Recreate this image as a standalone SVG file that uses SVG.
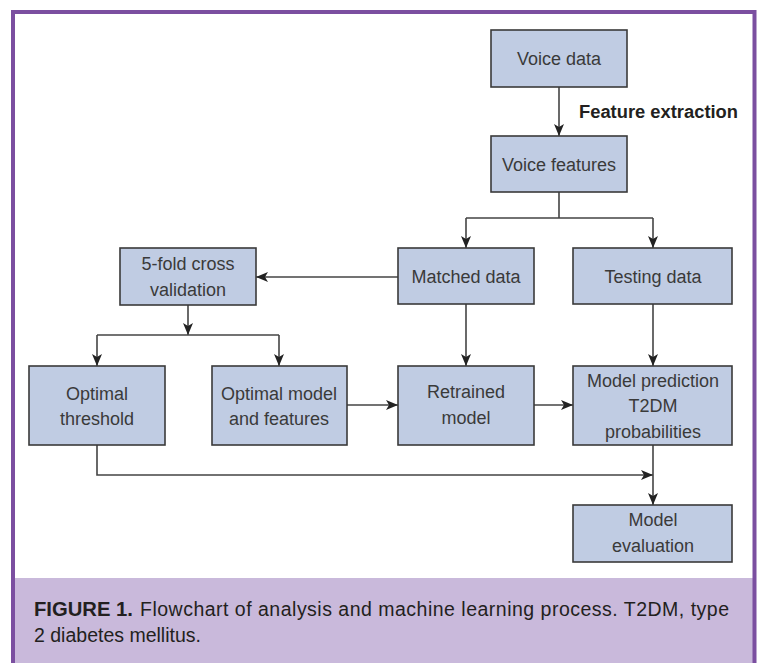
<svg xmlns="http://www.w3.org/2000/svg" width="760" height="663" viewBox="0 0 760 663">
<style>
.box{fill:#c0cce3;stroke:#3a3a3a;stroke-width:1.6}
.t{font-family:"Liberation Sans",Arial,sans-serif;font-size:18px;fill:#3a3a3a;text-anchor:middle}
.c{fill:none;stroke:#444;stroke-width:1.6}
.cap{font-family:"Liberation Sans",Arial,sans-serif;font-size:19.5px;fill:#231f20}
</style>
<defs>
<marker id="ah" markerUnits="userSpaceOnUse" markerWidth="12" markerHeight="10" refX="12" refY="5" orient="auto">
<path d="M0,0 L12,5 L0,10 L3,5 z" fill="#222"/>
</marker>
</defs>
<rect x="0" y="0" width="760" height="663" fill="#fff"/>
<rect id="caption-band" x="13" y="578" width="741" height="85" fill="#c9b9db"/>
<path d="M13,663 V12 H754.5 V663" fill="none" stroke="#7b4fa0" stroke-width="4"/>

<g id="connectors">
<path class="c" d="M559,87 V136" marker-end="url(#ah)"/>
<path class="c" d="M559,192 V218 M466,218 H653"/>
<path class="c" d="M466,218 V248" marker-end="url(#ah)"/>
<path class="c" d="M653,218 V248" marker-end="url(#ah)"/>
<path class="c" d="M398,277 H256" marker-end="url(#ah)"/>
<path class="c" d="M188,305 V335" marker-end="url(#ah)"/>
<path class="c" d="M97,335 H279"/>
<path class="c" d="M97,335 V366" marker-end="url(#ah)"/>
<path class="c" d="M279,335 V366" marker-end="url(#ah)"/>
<path class="c" d="M466,304 V366" marker-end="url(#ah)"/>
<path class="c" d="M653,304 V366" marker-end="url(#ah)"/>
<path class="c" d="M347,405 H398" marker-end="url(#ah)"/>
<path class="c" d="M534,405 H573" marker-end="url(#ah)"/>
<path class="c" d="M97,445 V475 H653" marker-end="url(#ah)"/>
<path class="c" d="M653,445 V505" marker-end="url(#ah)"/>
<text x="579" y="118" font-family="'Liberation Sans',Arial,sans-serif" font-size="18" font-weight="bold" fill="#231f20" textLength="159" lengthAdjust="spacingAndGlyphs">Feature extraction</text>
</g>

<g id="voice-data">
<rect class="box" x="491" y="30" width="136" height="57"/>
<text class="t" x="559" y="65">Voice data</text>
</g>
<g id="voice-features">
<rect class="box" x="491" y="136" width="136" height="56"/>
<text class="t" x="559" y="171">Voice features</text>
</g>
<g id="matched-data">
<rect class="box" x="398" y="248" width="136" height="56"/>
<text class="t" x="466" y="283">Matched data</text>
</g>
<g id="testing-data">
<rect class="box" x="573" y="248" width="159" height="56"/>
<text class="t" x="653" y="283">Testing data</text>
</g>
<g id="cross-validation">
<rect class="box" x="120" y="248" width="136" height="57"/>
<text class="t" x="188" y="270">5-fold cross</text>
<text class="t" x="188" y="296">validation</text>
</g>
<g id="optimal-threshold">
<rect class="box" x="29" y="366" width="136" height="79"/>
<text class="t" x="97" y="400">Optimal</text>
<text class="t" x="97" y="425">threshold</text>
</g>
<g id="optimal-model">
<rect class="box" x="212" y="366" width="135" height="79"/>
<text class="t" x="279" y="400">Optimal model</text>
<text class="t" x="279" y="425">and features</text>
</g>
<g id="retrained-model">
<rect class="box" x="398" y="366" width="136" height="79"/>
<text class="t" x="466" y="398">Retrained</text>
<text class="t" x="466" y="424">model</text>
</g>
<g id="model-prediction">
<rect class="box" x="573" y="366" width="159" height="79"/>
<text class="t" x="653" y="387">Model prediction</text>
<text class="t" x="653" y="412">T2DM</text>
<text class="t" x="653" y="438">probabilities</text>
</g>
<g id="model-evaluation">
<rect class="box" x="573" y="505" width="159" height="57"/>
<text class="t" x="653" y="526">Model</text>
<text class="t" x="653" y="552">evaluation</text>
</g>

<g id="caption">
<text class="cap" x="34" y="616" font-weight="bold" font-size="20" textLength="99" lengthAdjust="spacingAndGlyphs">FIGURE 1.</text>
<text class="cap" x="140" y="616" textLength="589" lengthAdjust="spacing">Flowchart of analysis and machine learning process. T2DM, type</text>
<text class="cap" x="34" y="642">2 diabetes mellitus.</text>
</g>
</svg>
